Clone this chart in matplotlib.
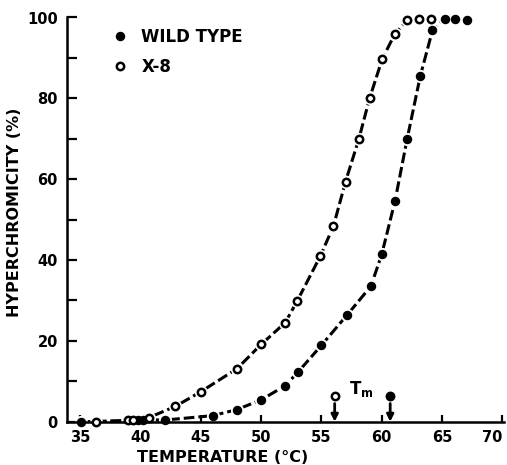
import matplotlib.pyplot as plt
from matplotlib.ticker import MultipleLocator

plt.rcParams['font.family'] = ['DejaVu Sans']
plt.rcParams['font.weight'] = 'bold'
plt.rcParams['mathtext.fontset'] = 'dejavusans'

# 数据：温度 (°C) 与增色效应 (%)
wt_temp = [35.1, 39.8, 40.2, 42.0, 46.0, 48.0, 50.0, 52.0, 53.1, 55.0,
           57.1, 59.1, 60.0, 61.1, 62.1, 63.2, 64.2, 65.2, 66.1, 67.1]
wt_hyper = [0.0, 0.3, 0.5, 0.4, 1.5, 3.0, 5.4, 8.9, 12.4, 18.9,
            26.3, 33.5, 41.4, 54.6, 69.9, 85.6, 96.8, 99.7, 99.7, 99.5]

x8_temp = [36.3, 39.0, 39.4, 40.7, 42.9, 45.0, 48.0, 50.0, 52.0, 53.0,
           54.9, 56.0, 57.0, 58.1, 59.0, 60.05, 61.1, 62.1, 63.1, 64.1]
x8_hyper = [0.0, 0.3, 0.4, 1.0, 3.8, 7.4, 13.1, 19.1, 24.5, 29.9,
            40.9, 48.4, 59.4, 69.9, 80.1, 89.8, 96.0, 99.3, 99.7, 99.7]

# Tm 标记
tm_temp = [56.1, 60.7]
tm_face = ['white', 'black']
tm_level = 6.3

xticks = [35, 40, 45, 50, 55, 60, 65, 70]
yticks = [0, 20, 40, 60, 80, 100]

fig = plt.figure(figsize=(5.07, 4.65), dpi=100)
ax = fig.add_axes([67 / 507, 43.3 / 465, 437 / 507, 404.2 / 465])

lw = 2.2
dash = (3.5, 1.3)

# 虚线曲线
ax.plot(wt_temp, wt_hyper, color='black', lw=lw, dashes=dash, zorder=2, clip_on=False)
ax.plot(x8_temp, x8_hyper, color='black', lw=lw, dashes=dash, zorder=2, clip_on=False)

# 标记周围的白色空隙
ax.plot(wt_temp, wt_hyper, 'o', ms=8.5, color='white', mec='white', zorder=3, clip_on=False)
ax.plot(x8_temp, x8_hyper, 'o', ms=8.5, color='white', mec='white', zorder=3, clip_on=False)

ax.plot(wt_temp, wt_hyper, 'o', ms=5.8, color='black', mec='black', zorder=4,
        clip_on=False, label='WILD TYPE')
ax.plot(x8_temp, x8_hyper, 'o', ms=5.3, mfc='white', mec='black', mew=1.8, zorder=4,
        clip_on=False, label='X-8')

# Tm 箭头
for t, fc in zip(tm_temp, tm_face):
    ax.plot([t], [tm_level], 'o', ms=5.3, mfc=fc, mec='black', mew=1.8, zorder=4)
    ax.annotate('', xy=(t, 0), xytext=(t, tm_level - 1.8),
                arrowprops=dict(arrowstyle='-|>', color='black', lw=2,
                                mutation_scale=10, shrinkA=0, shrinkB=0),
                zorder=4)
ax.text(58.3, 8.0, r'$\mathbf{T}_{\mathbf{m}}$', fontsize=12, ha='center', va='center')

ax.set_xlim(33.92, 70.13)
ax.set_ylim(0, 100)
ax.set_xticks(xticks)
ax.set_yticks(yticks)
ax.yaxis.set_minor_locator(MultipleLocator(10))

for s in ['top', 'right']:
    ax.spines[s].set_visible(False)
for s in ['left', 'bottom']:
    ax.spines[s].set_linewidth(1.8)
ax.spines['bottom'].set_zorder(3.5)

ax.tick_params(axis='x', direction='in', length=5, width=1.6, labelsize=10.5, pad=6)
ax.tick_params(axis='y', which='both', direction='in', length=7, width=1.6,
               labelsize=10.5, pad=6.5)
# 最后一个刻度标签靠左，避免被裁切
ax.get_xticklabels()[-1].set_horizontalalignment('right')

ax.set_xlabel('TEMPERATURE (°C)', fontsize=11.5, fontweight='bold')
ax.xaxis.set_label_coords(0.355, -0.07)
ax.set_ylabel('HYPERCHROMICITY (%)', fontsize=11.5, fontweight='bold')
ax.yaxis.set_label_coords(-0.103, 0.519)

ax.legend(loc='upper left', bbox_to_anchor=(0.09, 0.99), frameon=False,
          handlelength=0.8, handletextpad=0.9, labelspacing=0.7,
          prop={'size': 12, 'weight': 'bold'}, borderaxespad=0)

fig.savefig('out.png', dpi=100)
